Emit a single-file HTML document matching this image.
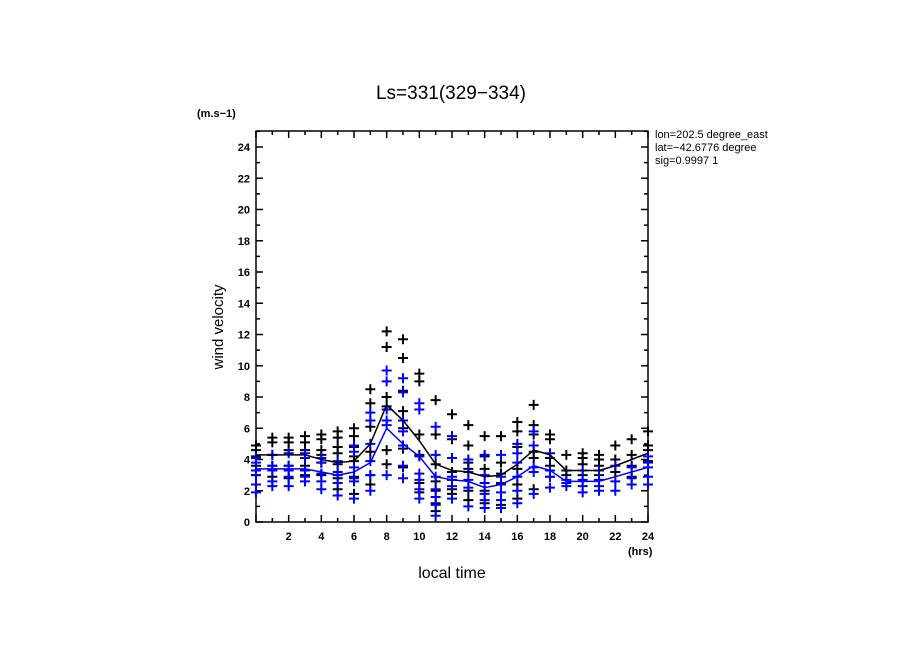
<!DOCTYPE html>
<html><head><meta charset="utf-8"><style>
html,body{margin:0;padding:0;background:#fff;}
svg{display:block;font-family:"Liberation Sans",sans-serif;}
</style></head><body>
<svg id="chart" width="904" height="654" viewBox="0 0 904 654" xmlns="http://www.w3.org/2000/svg">
<rect width="904" height="654" fill="#fff"/>
<text x="451" y="99" font-size="19" text-anchor="middle">Ls=331(329−334)</text>
<text x="197" y="117" font-size="11" font-weight="bold">(m.s−1)</text>
<text x="628" y="555" font-size="11" font-weight="bold">(hrs)</text>
<text x="452" y="578" font-size="16" text-anchor="middle">local time</text>
<text transform="translate(223,327) rotate(-90)" font-size="15" text-anchor="middle">wind velocity</text>
<g font-size="11">
<text x="655" y="138">lon=202.5 degree_east</text>
<text x="655" y="151">lat=−42.6776 degree</text>
<text x="655" y="164">sig=0.9997 1</text>
</g>
<g id="axes"></g>
<g id="marks"></g>
<rect x="780" y="125" width="124" height="50" fill="#fff"/>
</svg>
<script>
const hours = [0,1,2,3,4,5,6,7,8,9,10,11,12,13,14,15,16,17,18,19,20,21,22,23,24];
const meanBlack = [4.3,4.3,4.3,4.3,4.0,3.8,3.9,5.0,7.5,6.5,5.2,3.7,3.3,3.2,2.9,3.0,3.7,4.6,4.3,3.3,3.3,3.3,3.6,4.0,4.4];
const meanBlue = [3.4,3.4,3.4,3.4,3.2,3.0,3.2,3.8,6.0,5.0,4.2,2.9,2.7,2.6,2.2,2.4,2.9,3.6,3.3,2.6,2.6,2.6,2.9,3.2,3.5];
const ptsBlack = [[4.9,4.6,4.2,3.6,3.0],[5.4,5.1,4.3,3.6,2.9],[5.4,5.1,4.6,3.6,2.8],[5.5,5.1,4.6,4.1,3.6,3.0],[5.6,5.3,4.6,4.3,3.8,3.0],[5.8,5.4,4.8,4.4,3.7,2.8,2.1],[6.0,5.5,4.8,4.2,3.9,2.9,1.8],[8.5,7.6,6.1,4.5,3.0,2.4],[12.2,11.2,8.0,7.4,4.6,3.7],[11.7,10.5,8.4,7.1,6.0,4.7,3.5],[9.5,9.0,5.6,4.3,2.5,1.9],[7.8,5.6,3.7,2.6,2.0,1.2,0.7],[6.9,5.3,3.2,2.7,2.1,1.8],[6.2,4.9,3.8,3.4,2.0,1.4],[5.5,4.2,3.4,2.0,1.2],[5.5,3.8,3.1,2.5,1.1],[6.4,5.8,4.8,3.4,2.4,1.5],[7.5,6.2,5.6,4.5,4.1,2.1],[5.6,5.3,4.1,3.6,2.9],[4.3,3.3,3.0],[4.4,4.1,3.7,3.0],[4.3,4.0,3.6,3.0],[4.9,4.0,3.2],[5.3,4.3,3.6,2.9],[5.8,4.9,4.6,3.9]];
const ptsBlue = [[4.1,3.8,3.3,3.0,2.4,1.9],[4.3,3.6,3.3,2.6,2.3],[4.4,3.6,3.3,2.9,2.3],[4.4,4.1,3.3,2.9,2.6],[4.1,3.8,3.1,2.6,2.1],[3.9,3.2,3.0,2.5,1.7],[4.9,4.5,3.5,2.8,2.6,1.5],[7.0,6.5,5.0,3.9,3.0,2.0],[9.7,9.0,7.2,6.5,6.2,3.0],[9.2,8.3,6.5,5.8,4.9,3.6,2.8],[7.6,7.2,4.2,3.1,2.7,2.1,1.5],[6.1,4.3,2.9,2.1,1.6,1.1,0.4],[5.5,4.1,2.9,2.3,1.5],[4.0,3.2,2.7,2.2,1.0],[4.3,3.0,2.5,1.8,1.4,0.9],[4.3,2.9,2.4,1.9,1.4,0.9],[5.0,4.4,3.8,2.9,2.0,1.2],[5.8,4.9,3.5,3.2,1.8],[4.4,3.3,2.9,2.2],[2.7,2.5,2.3],[3.3,2.7,2.3,1.9],[3.3,2.7,2.3,2.0],[3.6,2.6,2.0],[3.5,2.8,2.4],[4.2,3.8,3.5,2.9,2.4]];
const xTickLabels = ["2","4","6","8","10","12","14","16","18","20","22","24"];
const yTickLabels = ["0","2","4","6","8","10","12","14","16","18","20","22","24"];

const NS="http://www.w3.org/2000/svg";
const X0=256,X1=648,Y0=522,YT=131;
const xs=h=>X0+(X1-X0)*h/24;
const ys=v=>Y0-(Y0-147)*v/24;
const axes=document.getElementById('axes'), marks=document.getElementById('marks');
function mk(tag,attrs,parent){const e=document.createElementNS(NS,tag);for(const k in attrs)e.setAttribute(k,attrs[k]);parent.appendChild(e);return e;}

const frame=mk('rect',{x:X0,y:YT,width:X1-X0,height:Y0-YT,fill:'none',stroke:'#000','stroke-width':1.5},axes);


for(let h=0;h<=24;h++){
  const L=(h%2===0)?7:4;
  mk('line',{x1:xs(h),x2:xs(h),y1:Y0,y2:Y0-L,stroke:'#000','stroke-width':1.5},axes);
  mk('line',{x1:xs(h),x2:xs(h),y1:YT,y2:YT+L,stroke:'#000','stroke-width':1.5},axes);
}
xTickLabels.forEach(s=>{
  const t=mk('text',{x:xs(+s),y:Y0+18,'font-size':11,'font-weight':'bold','text-anchor':'middle'},axes);
  t.textContent=s;
  
  
});
for(let v=0;v<=25;v++){
  const L=(v%2===0)?7:4;
  mk('line',{x1:X0,x2:X0+L,y1:ys(v),y2:ys(v),stroke:'#000','stroke-width':1.5},axes);
  mk('line',{x1:X1,x2:X1-L,y1:ys(v),y2:ys(v),stroke:'#000','stroke-width':1.5},axes);
}
yTickLabels.forEach(s=>{
  const t=mk('text',{x:X0-6,y:ys(+s)+4,'font-size':11,'font-weight':'bold','text-anchor':'end'},axes);
  t.textContent=s;
  
  
});
function plus(h,v,color,name){
  const g=mk('path',{d:`M${xs(h)-5},${ys(v)}h10M${xs(h)},${ys(v)-5}v10`,stroke:color,'stroke-width':2,fill:'none'},marks);
  
  
}
hours.forEach((h,i)=>{ptsBlack[i].forEach(v=>plus(h,v,'#000','black-point'));});
hours.forEach((h,i)=>{ptsBlue[i].forEach(v=>plus(h,v,'#0000ff','blue-point'));});
function line(arr,color,name){
  const p=mk('polyline',{points:hours.map((h,i)=>xs(h)+','+ys(arr[i])).join(' '),fill:'none',stroke:color,'stroke-width':1.5},marks);
  
  
}
line(meanBlack,'#000','black-mean-line');
line(meanBlue,'#0000ff','blue-mean-line');
</script>
</body></html>
